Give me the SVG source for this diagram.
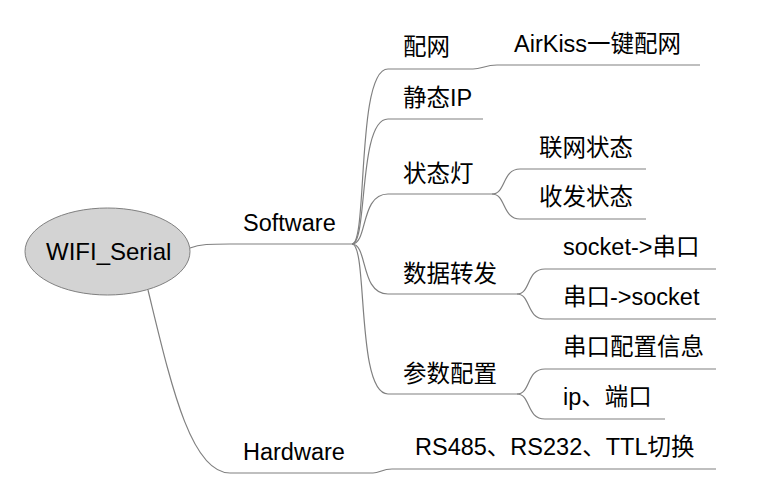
<svg xmlns="http://www.w3.org/2000/svg" width="758" height="498" viewBox="0 0 758 498">
<style>
.c{fill:none;stroke:#808080;stroke-width:1.2}
text{font-family:"Liberation Sans","Noto Sans CJK SC",sans-serif;font-size:23.5px;fill:#000}
</style>
<rect width="758" height="498" fill="#fff"/>
<g id="connectors">
<path class="c" d="M190,248 C200,244 210,244 230,244 L352,244"/>
<path class="c" d="M148,290 C170,380 190,473 230,473 L373,473 C380,473 382,469 392,469 L716,469"/>
<path class="c" d="M352,244 C368,244 356,69 388,69 L473,69 C482,69 485,65 497,65 L700,65"/>
<path class="c" d="M352,244 C368,244 358,119 388,119 L483,119"/>
<path class="c" d="M352,244 C368,244 360,194 388,194 L492,194"/>
<path class="c" d="M352,244 C368,244 360,294 388,294 L517,294"/>
<path class="c" d="M352,244 C368,244 356,394 388,394 L517,394"/>
<path class="c" d="M492,194 C506,194 502,169 520,169 L646,169"/>
<path class="c" d="M492,194 C506,194 502,219 520,219 L646,219"/>
<path class="c" d="M517,294 C531,294 526,269 545,269 L716,269"/>
<path class="c" d="M517,294 C531,294 526,319 545,319 L716,319"/>
<path class="c" d="M517,394 C531,394 526,369 545,369 L716,369"/>
<path class="c" d="M517,394 C531,394 526,419 545,419 L665,419"/>
</g>
<g id="root">
<ellipse cx="107.5" cy="251.5" rx="82.5" ry="43.5" fill="#d3d3d3" stroke="#808080" stroke-width="1"/>
<text x="46" y="260" style="font-size:24px">WIFI_Serial</text>
</g>
<g id="software"><text x="243" y="231">Software</text></g>
<g id="hardware"><text x="243" y="460">Hardware</text></g>
<g id="peiwang"><text x="403" y="55">配网</text></g>
<g id="airkiss"><text x="514" y="52">AirKiss一键配网</text></g>
<g id="staticip"><text x="403" y="106">静态IP</text></g>
<g id="led"><text x="403" y="182">状态灯</text></g>
<g id="netstate"><text x="539" y="156">联网状态</text></g>
<g id="txrx"><text x="539" y="205">收发状态</text></g>
<g id="forward"><text x="403" y="282">数据转发</text></g>
<g id="sock2uart"><text x="563" y="255">socket-&gt;串口</text></g>
<g id="uart2sock"><text x="563" y="305">串口-&gt;socket</text></g>
<g id="params"><text x="403" y="382">参数配置</text></g>
<g id="uartcfg"><text x="563" y="355">串口配置信息</text></g>
<g id="ipport"><text x="563" y="405">ip、端口</text></g>
<g id="rs"><text x="415" y="455">RS485、RS232、TTL切换</text></g>
</svg>
